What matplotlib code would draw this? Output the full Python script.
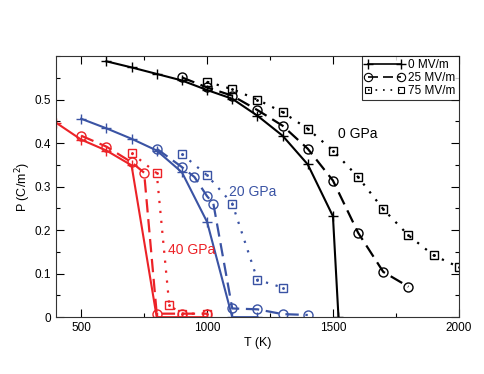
"""
    Polarization vs temperature for three pressures and three electric fields.
"""

import matplotlib.pyplot as plt
from matplotlib.ticker import MultipleLocator
from matplotlib.lines import Line2D

plt.rcParams['font.family'] = ['Liberation Sans', 'DejaVu Sans']

red = '#ec2227'
blue = '#3a53a4'
black = '#000000'

# 0 GPa
t_0gpa_e0 = [600, 700, 800, 900, 1000, 1100, 1200, 1300, 1400, 1500, 1522]
p_0gpa_e0 = [0.588, 0.574, 0.559, 0.544, 0.522, 0.502, 0.463, 0.417, 0.351, 0.232, 0.0]
t_0gpa_e25 = [900, 1000, 1100, 1200, 1300, 1400, 1500, 1600, 1700, 1800]
p_0gpa_e25 = [0.551, 0.528, 0.509, 0.476, 0.440, 0.387, 0.314, 0.194, 0.104, 0.070]
t_0gpa_e75 = [1000, 1100, 1200, 1300, 1400, 1500, 1600, 1700, 1800, 1900, 2000]
p_0gpa_e75 = [0.541, 0.524, 0.500, 0.471, 0.433, 0.383, 0.322, 0.248, 0.188, 0.142, 0.115]

# 20 GPa
t_20gpa_e0 = [500, 600, 700, 800, 900, 1000, 1100, 1200]
p_20gpa_e0 = [0.456, 0.434, 0.410, 0.383, 0.333, 0.219, 0.0, 0.0]
t_20gpa_e25 = [800, 900, 950, 1000, 1025, 1100, 1200, 1300, 1400]
p_20gpa_e25 = [0.387, 0.345, 0.322, 0.278, 0.261, 0.020, 0.018, 0.007, 0.005]
t_20gpa_e75 = [900, 1000, 1100, 1200, 1300]
p_20gpa_e75 = [0.375, 0.326, 0.261, 0.086, 0.068]

# 40 GPa
t_40gpa_e0 = [400, 500, 600, 700, 800, 900, 1000]
p_40gpa_e0 = [0.447, 0.408, 0.383, 0.349, 0.0, 0.0, 0.0]
t_40gpa_e25 = [500, 600, 700, 750, 800, 900, 1000]
p_40gpa_e25 = [0.417, 0.392, 0.356, 0.332, 0.008, 0.008, 0.008]
t_40gpa_e75 = [700, 800, 850, 900, 1000]
p_40gpa_e75 = [0.377, 0.331, 0.027, 0.008, 0.008]

field_labels = ['0 MV/m', '25 MV/m', '75 MV/m']


def draw_set(ax, color, t0, p0, t25, p25, t75, p75):
    # 0 MV/m : solid with plus
    ax.plot(t0, p0, '-', color=color, lw=1.5, marker='+', ms=6.5, mew=1.0)
    # 25 MV/m : dashed with open circles
    ax.plot(t25, p25, color=color, lw=1.6, dashes=(6, 3), marker='o', ms=6.5,
            mfc='none', mec=color, mew=1.0)
    # 75 MV/m : dotted with open squares (dot in the middle)
    ax.plot(t75, p75, color=color, lw=1.6, dashes=(1, 3.5), marker='s', ms=5.5,
            mfc='none', mec=color, mew=1.0)
    ax.plot(t75, p75, ls='none', marker='.', ms=2, color=color)


fig = plt.figure(figsize=(4.85, 3.74), dpi=100)
ax = fig.add_axes([0.1155, 0.152, 0.8305, 0.698])

draw_set(ax, black, t_0gpa_e0, p_0gpa_e0, t_0gpa_e25, p_0gpa_e25, t_0gpa_e75, p_0gpa_e75)
draw_set(ax, blue, t_20gpa_e0, p_20gpa_e0, t_20gpa_e25, p_20gpa_e25, t_20gpa_e75, p_20gpa_e75)
draw_set(ax, red, t_40gpa_e0, p_40gpa_e0, t_40gpa_e25, p_40gpa_e25, t_40gpa_e75, p_40gpa_e75)

ax.text(1519, 0.42, '0 GPa', color=black, fontsize=10, va='center')
ax.text(1088, 0.287, '20 GPa', color=blue, fontsize=10, va='center')
ax.text(846, 0.154, '40 GPa', color=red, fontsize=10, va='center')

ax.set_xlim(400, 2000)
ax.set_ylim(0, 0.6)
ax.xaxis.set_major_locator(MultipleLocator(500))
ax.xaxis.set_minor_locator(MultipleLocator(250))
ax.set_yticks([0, 0.1, 0.2, 0.3, 0.4, 0.5])
ax.set_yticklabels(['0', '0.1', '0.2', '0.3', '0.4', '0.5'])
ax.yaxis.set_minor_locator(MultipleLocator(0.05))
ax.tick_params(which='both', direction='in', top=True, right=True, labelsize=8.5, width=0.8)
ax.tick_params(which='major', length=6)
ax.tick_params(which='minor', length=3)
for s in ax.spines.values():
    s.set_linewidth(0.8)
    s.set_color('#333333')

ax.set_xlabel('T (K)', fontsize=9, labelpad=2)
ax.set_ylabel('P (C/m$^2$)', fontsize=9, labelpad=1)

handles = [
    Line2D([], [], color=black, lw=1.2, marker='+', ms=7, mew=1.0),
    Line2D([], [], color=black, lw=1.2, dashes=(6, 3), marker='o', ms=6, mfc='none', mew=0.8),
    Line2D([], [], color=black, lw=1.2, dashes=(1, 3.5), marker='s', ms=5, mfc='none', mew=0.8),
]
leg = ax.legend(handles, field_labels, loc='upper right', numpoints=2, fontsize=8.5,
                frameon=True, fancybox=False, borderaxespad=0, borderpad=0.25,
                handlelength=3.4, handletextpad=0.3, labelspacing=0.1)
leg.get_frame().set_edgecolor('black')
leg.get_frame().set_linewidth(0.8)

fig.savefig('out.png', dpi=100)
